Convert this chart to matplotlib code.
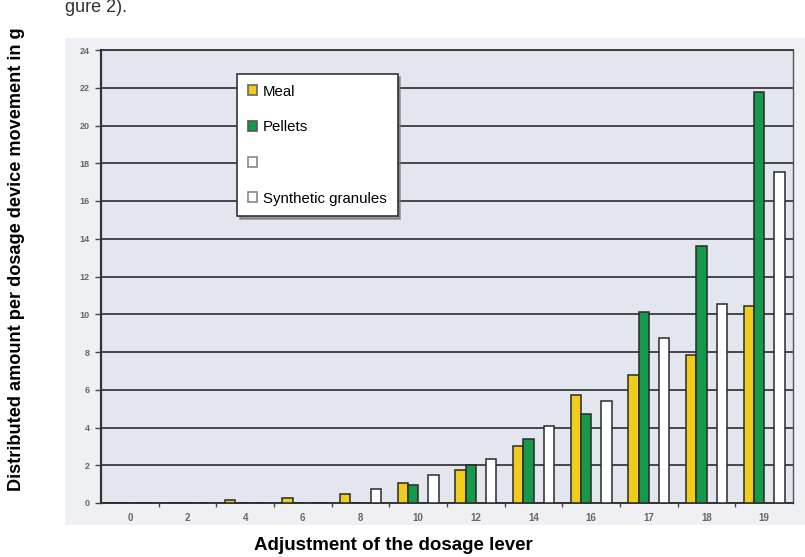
import numpy as np
import matplotlib
matplotlib.use("Agg")
from matplotlib import pyplot as plt
from matplotlib.patches import Patch, Rectangle

# values (g per dosage device movement)
categories = ['0', '2', '4', '6', '8', '10', '12', '14', '16', '17', '18', '19']
meal = [0, 0, 0.15, 0.25, 0.5, 1.05, 1.75, 3.0, 5.7, 6.8, 7.85, 10.45]
pellets = [0, 0, 0, 0, 0, 0.95, 2.0, 3.4, 4.7, 10.1, 13.6, 21.8]
synthetic = [0, 0, 0, 0, 0.75, 1.5, 2.35, 4.1, 5.4, 8.75, 10.55, 17.55]
series_labels = ['Meal', 'Pellets', '', 'Synthetic granules']
y_ticks = list(range(0, 25, 2))

plt.rcParams['font.family'] = ['Liberation Sans', 'DejaVu Sans']

fig = plt.figure(figsize=(8.05, 5.57), dpi=100)
fig.patch.set_facecolor('white')

# light grey area of the scanned figure, behind everything
fig.patches.append(Rectangle((65 / 805, 1 - 525 / 557), 740 / 805, 487 / 557,
                             transform=fig.transFigure, facecolor='#eef0f3',
                             edgecolor='none', zorder=-10))

ax = fig.add_axes([101 / 805, 1 - 503 / 557, 692 / 805, 453 / 557])
ax.set_zorder(2)
ax.set_facecolor('#e3e6ee')

x = np.arange(len(categories))
w = 0.179
yellow = '#f0cd1c'
green = '#16994a'

b1 = ax.bar(x - 1.5 * w, meal, w, color=yellow, edgecolor='#2a2a2a', linewidth=1.1, zorder=3)
b2 = ax.bar(x - 0.5 * w, pellets, w, color=green, edgecolor='#2a2a2a', linewidth=1.1, zorder=3)
b4 = ax.bar(x + 1.5 * w, synthetic, w, color='white', edgecolor='#2a2a2a', linewidth=1.1, zorder=3)

ax.set_xlim(-0.5, len(categories) - 0.5)
ax.set_ylim(0, 24)
ax.set_yticks(y_ticks)
ax.set_yticklabels([str(v) for v in y_ticks], fontsize=6.5, color='#666666', fontweight='bold')
ax.set_xticks(x)
ax.set_xticklabels(categories, fontsize=7, color='#666666', fontweight='bold')
ax.set_xticks(x[:-1] + 0.5, minor=True)
ax.tick_params(axis='x', which='major', length=0, pad=7)
ax.tick_params(axis='x', which='minor', length=3, width=1, color='#444444', direction='out')
ax.tick_params(axis='y', length=4, width=1, color='#444444', pad=4)

ax.grid(axis='y', color='#2c2c2c', linewidth=1.2, zorder=1)
ax.set_axisbelow(True)
ax.spines['left'].set_linewidth(1.6)
ax.spines['left'].set_color('#333333')
ax.spines['bottom'].set_linewidth(1.4)
ax.spines['bottom'].set_color('#333333')
ax.spines['top'].set_linewidth(1.3)
ax.spines['top'].set_color('#333333')
ax.spines['right'].set_linewidth(1.0)
ax.spines['right'].set_color('#555555')

handles = [Patch(facecolor=yellow, edgecolor='#666666', linewidth=1.2),
           Patch(facecolor=green, edgecolor='#555555', linewidth=1.2),
           Patch(facecolor='white', edgecolor='#888888', linewidth=1.2),
           Patch(facecolor='white', edgecolor='#888888', linewidth=1.2)]
leg = ax.legend(handles, series_labels, loc='upper left',
                bbox_to_anchor=(237 / 805, 1 - 74 / 557), bbox_transform=fig.transFigure,
                fontsize=10.8, frameon=True, fancybox=False, framealpha=1,
                edgecolor='#333333', handlelength=0.65, handleheight=0.65,
                handletextpad=0.4, labelspacing=1.45, borderpad=0.7,
                borderaxespad=0, shadow={'color': '#777777', 'alpha': 0.7})
leg.get_frame().set_linewidth(1.2)
leg.set_zorder(5)

fig.text(0.021, 0.535, 'Distributed amount per dosage device movement in g',
         rotation=90, ha='center', va='center', fontsize=13.1, fontweight='bold')
fig.text(0.489, 0.021, 'Adjustment of the dosage lever',
         ha='center', va='center', fontsize=13.5, fontweight='bold')
fig.text(0.081, 0.978, 'gure 2).', ha='left', va='baseline', fontsize=13, color='#333333')

fig.savefig('out.png', dpi=100)
